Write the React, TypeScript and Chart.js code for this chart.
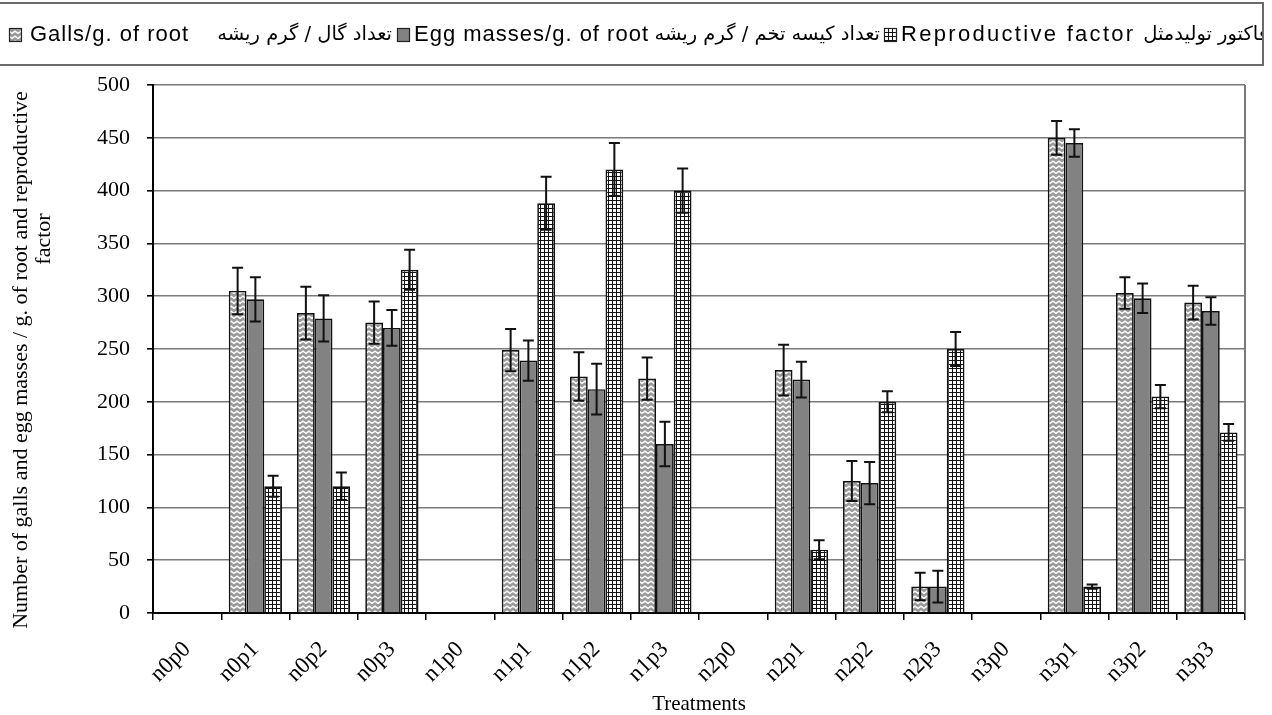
import React, { useEffect, useRef } from 'react';
import { Chart, registerables } from 'chart.js';

Chart.register(...registerables);

// ---------- data ----------
const categories = [
  'n0p0', 'n0p1', 'n0p2', 'n0p3',
  'n1p0', 'n1p1', 'n1p2', 'n1p3',
  'n2p0', 'n2p1', 'n2p2', 'n2p3',
  'n3p0', 'n3p1', 'n3p2', 'n3p3',
];

const gallsValues = [null, 305, 284, 275, null, 249, 224, 222, null, 230, 125, 25, null, 450, 303, 294];
const gallsErrors = [null, 22, 25, 20, null, 20, 23, 20, null, 24, 19, 13, null, 16, 15, 16];

const eggValues = [null, 297, 279, 270, null, 239, 212, 160, null, 221, 123, 25, null, 445, 298, 286];
const eggErrors = [null, 21, 22, 17, null, 19, 24, 21, null, 17, 20, 15, null, 13, 14, 13];

const rfValues = [null, 120, 120, 325, null, 388, 420, 400, null, 60, 200, 250, null, 25, 205, 171];
const rfErrors = [null, 10, 13, 19, null, 25, 25, 21, null, 9, 10, 16, null, 2, 11, 8];

const yTickValues = [0, 50, 100, 150, 200, 250, 300, 350, 400, 450, 500];

const seriesLatin = ['Galls/g. of root', 'Egg masses/g. of root', 'Reproductive factor'];
const seriesPersian = ['تعداد گال / گرم ریشه', 'تعداد کیسه تخم / گرم ریشه', 'فاکتور تولیدمثل'];

const yTitleLines = [
  'Number of galls and egg masses / g. of root and reproductive    ',
  '                                        factor',
];
const xTitle = 'Treatments';

// ---------- style / layout constants ----------
const W = 1272;
const H = 715;
const SERIF = '"Liberation Serif", "Times New Roman", serif';
const LEGEND_POS = [
  { sw: 9, latin: 30, spacing: 1, persianRight: 392 },
  { sw: 397, latin: 414, spacing: 1, persianRight: 880 },
  { sw: 884, latin: 901, spacing: 2.3, persianRight: 1268 },
];

function makeGallsPattern(ctx: CanvasRenderingContext2D) {
  const c = document.createElement('canvas');
  c.width = 6;
  c.height = 5;
  const g = c.getContext('2d')!;
  g.fillStyle = '#9a9a9a';
  g.fillRect(0, 0, 6, 5);
  g.strokeStyle = '#ffffff';
  g.lineWidth = 1.4;
  g.beginPath();
  g.moveTo(-0.5, 3.8);
  g.lineTo(3, 1.2);
  g.lineTo(6.5, 3.8);
  g.stroke();
  return ctx.createPattern(c, 'repeat')!;
}

function makeGridPattern(ctx: CanvasRenderingContext2D) {
  const c = document.createElement('canvas');
  c.width = 4;
  c.height = 4;
  const g = c.getContext('2d')!;
  g.fillStyle = '#ffffff';
  g.fillRect(0, 0, 4, 4);
  g.fillStyle = '#111111';
  g.fillRect(0, 0, 1, 4);
  g.fillRect(0, 0, 4, 1);
  return ctx.createPattern(c, 'repeat')!;
}

const errorBarPlugin = {
  id: 'errorBars',
  afterDatasetsDraw(chart: any) {
    const ctx = chart.ctx;
    const yScale = chart.scales.y;
    ctx.save();
    ctx.strokeStyle = '#111';
    ctx.lineWidth = 2;
    chart.data.datasets.forEach((ds: any, i: number) => {
      const meta = chart.getDatasetMeta(i);
      meta.data.forEach((el: any, j: number) => {
        const v = ds.data[j];
        const e = ds.errors ? ds.errors[j] : null;
        if (v == null || e == null) return;
        const x = el.x;
        const t = yScale.getPixelForValue(v + e);
        const b = yScale.getPixelForValue(v - e);
        ctx.beginPath();
        ctx.moveTo(x, t);
        ctx.lineTo(x, b);
        ctx.moveTo(x - 5.5, t);
        ctx.lineTo(x + 5.5, t);
        ctx.moveTo(x - 5.5, b);
        ctx.lineTo(x + 5.5, b);
        ctx.stroke();
      });
    });
    ctx.restore();
  },
};

const frameAndLegendPlugin = {
  id: 'frameAndLegend',
  beforeDatasetsDraw(chart: any) {
    const { ctx, chartArea } = chart;
    ctx.save();
    ctx.strokeStyle = '#7a7a7a';
    ctx.lineWidth = 2;
    ctx.beginPath();
    ctx.moveTo(chartArea.right, chartArea.top);
    ctx.lineTo(chartArea.right, chartArea.bottom);
    ctx.stroke();
    ctx.restore();
  },
  afterDraw(chart: any) {
    const ctx = chart.ctx;
    ctx.save();
    ctx.strokeStyle = '#6a6a6a';
    ctx.lineWidth = 2;
    ctx.strokeRect(-2, 3, 1265, 62);
    ctx.beginPath();
    ctx.rect(0, 4, 1262, 60);
    ctx.clip();
    chart.data.datasets.forEach((ds: any, i: number) => {
      const p = LEGEND_POS[i];
      ctx.fillStyle = ds.backgroundColor;
      ctx.fillRect(p.sw, 28, 12, 13);
      ctx.strokeStyle = '#222';
      ctx.lineWidth = 1.2;
      ctx.strokeRect(p.sw + 0.5, 28.5, 12, 13);
      ctx.fillStyle = '#000';
      ctx.direction = 'ltr';
      ctx.textAlign = 'left';
      ctx.textBaseline = 'alphabetic';
      ctx.font = '22px "Liberation Sans", Arial, sans-serif';
      (ctx as any).letterSpacing = p.spacing + 'px';
      ctx.fillText(ds.latin, p.latin, 41);
      (ctx as any).letterSpacing = '0px';
      ctx.font = '19.5px "DejaVu Sans", sans-serif';
      ctx.direction = 'rtl';
      ctx.textAlign = 'right';
      ctx.fillText(ds.persian, p.persianRight, 40);
    });
    ctx.restore();
  },
};

export default function App() {
  const canvasRef = useRef<HTMLCanvasElement | null>(null);

  useEffect(() => {
    const canvas = canvasRef.current;
    if (!canvas) return;
    const ctx = canvas.getContext('2d')!;
    const gallsPattern = makeGallsPattern(ctx);
    const gridPattern = makeGridPattern(ctx);

    const common = {
      borderColor: '#111',
      borderWidth: 1.7,
      categoryPercentage: 0.78,
      barPercentage: 1.0,
    };

    const chart = new Chart(canvas, {
      type: 'bar',
      data: {
        labels: categories,
        datasets: [
          { ...common, label: seriesLatin[0], latin: seriesLatin[0], persian: seriesPersian[0], data: gallsValues, errors: gallsErrors, backgroundColor: gallsPattern } as any,
          { ...common, label: seriesLatin[1], latin: seriesLatin[1], persian: seriesPersian[1], data: eggValues, errors: eggErrors, backgroundColor: '#828282' } as any,
          { ...common, label: seriesLatin[2], latin: seriesLatin[2], persian: seriesPersian[2], data: rfValues, errors: rfErrors, backgroundColor: gridPattern } as any,
        ],
      },
      options: {
        responsive: false,
        devicePixelRatio: 1,
        animation: false,
        layout: { padding: { top: 85, right: 27, left: 0, bottom: 0 } },
        plugins: {
          legend: { display: false },
          tooltip: { enabled: false },
        },
        scales: {
          x: {
            offset: true,
            grid: {
              display: true,
              drawOnChartArea: false,
              drawTicks: true,
              tickLength: 7,
              tickColor: '#000',
              lineWidth: 1.5,
              offset: true,
            },
            border: { display: true, color: '#000', width: 2 },
            ticks: {
              font: { family: SERIF, size: 23 },
              color: '#000',
              maxRotation: 45,
              minRotation: 45,
              autoSkip: false,
              padding: 16,
            },
            title: {
              display: true,
              text: xTitle,
              font: { family: SERIF, size: 21, lineHeight: 1 },
              color: '#000',
              padding: { top: 0, bottom: 0 },
            },
            afterFit(scale: any) {
              scale.height = 102;
            },
          },
          y: {
            min: 0,
            max: 500,
            afterBuildTicks(scale: any) {
              scale.ticks = yTickValues.map((v) => ({ value: v }));
            },
            ticks: {
              font: { family: SERIF, size: 22 },
              color: '#000',
              padding: 17,
            },
            grid: {
              color: '#7a7a7a',
              lineWidth: 1.6,
              tickColor: '#000',
              tickLength: 6,
            },
            border: { display: true, color: '#000', width: 2 },
            title: {
              display: true,
              text: yTitleLines,
              font: { family: SERIF, size: 22, lineHeight: 1.05 },
              color: '#000',
              padding: { top: 10, bottom: 0 },
            },
            afterFit(scale: any) {
              scale.width = 153;
            },
          },
        },
      } as any,
      plugins: [errorBarPlugin, frameAndLegendPlugin],
    });

    return () => {
      chart.destroy();
    };
  }, []);

  return (
    <div style={{ position: 'fixed', left: 0, top: 0, width: W, height: H, background: '#fff' }}>
      <canvas ref={canvasRef} width={W} height={H} style={{ display: 'block' }} />
    </div>
  );
}
